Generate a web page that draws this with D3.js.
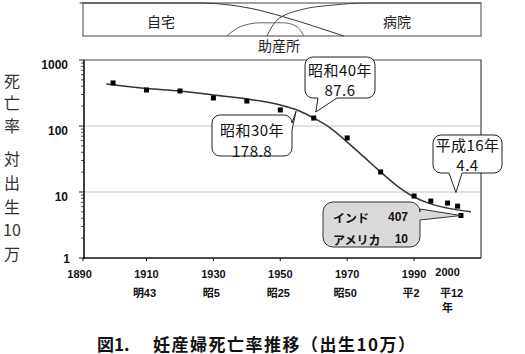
<!DOCTYPE html>
<html>
<head>
<meta charset="utf-8">
<title>妊産婦死亡率推移</title>
<script src="https://cdnjs.cloudflare.com/ajax/libs/d3/7.8.5/d3.min.js"></script>
<style>
  html, body { margin: 0; padding: 0; background: #fff; }
  svg { display: block; }
</style>
</head>
<body>
<div id="chart"></div>
<script>
// maternal deaths per 100k births
const years = [1900, 1910, 1920, 1930, 1940, 1950, 1960, 1970, 1980, 1990, 1995, 2000, 2003, 2004];
const rates = [449, 351, 339, 266, 239, 175, 132, 66, 20.1, 8.7, 7.3, 6.8, 6.1, 4.4];

// the smooth trend line
const trendYears = [1898, 1910, 1920, 1930, 1940, 1950, 1955, 1960, 1965, 1970, 1975, 1980, 1985, 1990, 1995, 2000, 2007];
const trendRates = [433, 370, 339, 295, 257, 208, 175, 132, 93, 57, 34, 20.1, 12.3, 8.4, 6.6, 5.7, 5.0];

// place of birth strip on top (share of births, 0..1)
const homeYears = [1890, 1926, 1941, 1951, 1960, 1969];
const homeShare = [1, 1, 0.84, 0.58, 0.30, 0];
const hospYears = [1946, 1949, 1956, 1966, 1976, 2010];
const hospShare = [0, 0.48, 0.79, 0.94, 1, 1];
const midYears = [1934, 1938, 1944, 1951, 1955, 1957];
const midShare = [0, 0.28, 0.40, 0.40, 0.28, 0];

const yTicks = [1, 10, 100, 1000];
const xTickYears = [1890, 1910, 1930, 1950, 1970, 1990, 2000];
const eraYears = [1910, 1930, 1950, 1970, 1990, 2000];
const eraLabels = ["明43", "昭5", "昭25", "昭50", "平2", "平12"];

const yLabelChars = ["死", "亡", "率", "対", "出", "生", "10", "万"];

const JP = '"Noto Sans CJK JP", sans-serif';
const LAT = '"Liberation Sans", "Noto Sans CJK JP", sans-serif';

const W = 525, H = 354;
const svg = d3.select("#chart").append("svg").attr("width", W).attr("height", H);

const x = d3.scaleLinear().domain([1890, 2010]).range([79.6, 481]);
const y = d3.scaleLog().domain([1, 1000]).range([258, 60]);
const plotL = 84, plotR = 481, plotT = 60, plotB = 258;

// ---- top strip ----
const sy = d3.scaleLinear().domain([0, 1]).range([36, 3]);
svg.append("rect").attr("x", 83).attr("y", 3).attr("width", plotR - 83).attr("height", 33)
  .attr("fill", "none").attr("stroke", "#444").attr("stroke-width", 1);

const stripLine = d3.line().x(d => x(d[0])).y(d => sy(d[1])).curve(d3.curveMonotoneX);
svg.append("path").attr("d", stripLine(d3.zip(homeYears, homeShare)))
  .attr("fill", "none").attr("stroke", "#333").attr("stroke-width", 1);
svg.append("path").attr("d", stripLine(d3.zip(hospYears, hospShare)))
  .attr("fill", "none").attr("stroke", "#444").attr("stroke-width", 1);
svg.append("path").attr("d", stripLine(d3.zip(midYears, midShare)))
  .attr("fill", "none").attr("stroke", "#666").attr("stroke-width", 1);

svg.append("text").attr("x", 161).attr("y", 21).text("自宅");
svg.append("text").attr("x", 397).attr("y", 21).text("病院");
svg.append("text").attr("x", 279).attr("y", 45).text("助産所");
svg.selectAll("text").attr("font-family", JP).attr("font-size", 14).attr("fill", "#222")
  .attr("text-anchor", "middle").attr("dominant-baseline", "central");

// ---- plot frame + grid ----
svg.append("g").selectAll("line").data([10, 100]).join("line")
  .attr("x1", plotL).attr("x2", plotR).attr("y1", d => y(d)).attr("y2", d => y(d))
  .attr("stroke", "#c4c4c4").attr("stroke-width", 1.2);
svg.append("path").attr("d", `M${plotL},${plotT}H${plotR}V${plotB}`)
  .attr("fill", "none").attr("stroke", "#444").attr("stroke-width", 1.2);

// y axis (log, with minor ticks)
const minor = [];
[1, 10, 100].forEach(b => { for (let k = 2; k <= 9; k++) minor.push(b * k); });
const yAxis = svg.append("g");
yAxis.selectAll("line.mi").data(minor).join("line").attr("class", "mi")
  .attr("x1", plotL - 3).attr("x2", plotL).attr("y1", d => y(d)).attr("y2", d => y(d))
  .attr("stroke", "#222").attr("stroke-width", 0.8);
yAxis.selectAll("line.ma").data(yTicks).join("line").attr("class", "ma")
  .attr("x1", plotL - 5).attr("x2", plotL).attr("y1", d => y(d)).attr("y2", d => y(d))
  .attr("stroke", "#222").attr("stroke-width", 1);
yAxis.append("line").attr("x1", plotL).attr("x2", plotL).attr("y1", plotT).attr("y2", plotB + 1)
  .attr("stroke", "#111").attr("stroke-width", 1.6);
yAxis.selectAll("text").data(yTicks).join("text")
  .attr("x", d => d === 1 ? 70 : 68)
  .attr("y", d => d === 1 ? y(d) + 1 : y(d) + 5)
  .attr("text-anchor", "end").attr("dominant-baseline", "central")
  .attr("font-family", LAT).attr("font-weight", "bold").attr("font-size", 12).attr("fill", "#111")
  .text(d => d);

// x axis
const xAxis = svg.append("g");
xAxis.append("line").attr("x1", plotL - 1).attr("x2", plotR).attr("y1", plotB).attr("y2", plotB)
  .attr("stroke", "#111").attr("stroke-width", 1.6);
xAxis.selectAll("line.t").data(xTickYears.slice(0, 6)).join("line").attr("class", "t")
  .attr("x1", d => Math.max(x(d), plotL - 1)).attr("x2", d => Math.max(x(d), plotL - 1))
  .attr("y1", plotB).attr("y2", plotB + 3).attr("stroke", "#111");
xAxis.selectAll("text.yr").data(xTickYears).join("text").attr("class", "yr")
  .attr("x", d => x(d)).attr("y", d => d === 2000 ? 272 : 273.5)
  .attr("text-anchor", "middle").attr("dominant-baseline", "central")
  .attr("font-family", LAT).attr("font-weight", "bold").attr("font-size", 11).attr("fill", "#111")
  .text(d => d);
xAxis.selectAll("text.era").data(d3.zip(eraYears, eraLabels)).join("text").attr("class", "era")
  .attr("x", d => x(d[0]) + (d[0] === 2000 ? 4 : d[0] === 1990 ? -3 : -2)).attr("y", 293)
  .attr("text-anchor", "middle").attr("dominant-baseline", "central")
  .attr("font-family", LAT).attr("font-weight", "bold").attr("font-size", 11).attr("fill", "#111")
  .text(d => d[1]);
xAxis.append("text").attr("x", x(2000)).attr("y", 308)
  .attr("text-anchor", "middle").attr("dominant-baseline", "central")
  .attr("font-family", LAT).attr("font-weight", "bold").attr("font-size", 11).attr("fill", "#111")
  .text("年");

// y label, one character per row
const yLabY = [80, 102, 125, 158, 182, 206, 229, 253];
svg.append("g").selectAll("text").data(yLabelChars).join("text")
  .attr("x", 12).attr("y", (d, i) => yLabY[i])
  .attr("text-anchor", "middle").attr("dominant-baseline", "central")
  .attr("font-family", JP).attr("font-size", 16).attr("fill", "#333")
  .text(d => d);

// ---- trend + markers ----
const trend = d3.line().x(d => x(d[0])).y(d => y(d[1])).curve(d3.curveMonotoneX);
svg.append("path").attr("d", trend(d3.zip(trendYears, trendRates)))
  .attr("fill", "none").attr("stroke", "#333").attr("stroke-width", 1.5);

svg.append("g").selectAll("rect").data(d3.zip(years, rates)).join("rect")
  .attr("x", d => x(d[0]) - 2.5).attr("y", d => y(d[1]) - 2.5)
  .attr("width", 5).attr("height", 5).attr("fill", "#000");

// ---- callouts ----
function calloutPath(b, t, r) {
  const [x0, y0, x1, y1] = b;
  let p = `M${x0 + r},${y0}H${x1 - r}A${r},${r} 0 0 1 ${x1},${y0 + r}`;
  if (t.side === "right") p += `V${t.a}L${t.tip[0]},${t.tip[1]}L${x1},${t.b}`;
  p += `V${y1 - r}A${r},${r} 0 0 1 ${x1 - r},${y1}`;
  if (t.side === "bottom") p += `H${t.b}L${t.tip[0]},${t.tip[1]}L${t.a},${y1}`;
  p += `H${x0 + r}A${r},${r} 0 0 1 ${x0},${y1 - r}V${y0 + r}A${r},${r} 0 0 1 ${x0 + r},${y0}Z`;
  return p;
}

const callouts = [
  { lines: ["昭和30年", "178.8"], at: [1955, 178.8], off: [-1, 2], box: [212, 115, 292, 156], side: "right", a: 123, b: 130, ty: [129, 150], fill: "#fff" },
  { lines: ["昭和40年", "87.6"], at: [1960, 132], off: [2, -6], box: [305, 57, 375, 98], side: "bottom", a: 318, b: 337, ty: [69, 89], fill: "#fff" },
  { lines: ["平成16年", "4.4"], at: [2004, 4.4], off: [-5, -23], box: [433, 135, 502, 173], side: "bottom", a: 449, b: 462, ty: [144, 164], fill: "#fff" }
];
callouts.forEach(c => {
  const tip = [x(c.at[0]) + c.off[0], y(c.at[1]) + c.off[1]];
  svg.append("path").attr("d", calloutPath(c.box, { side: c.side, a: c.a, b: c.b, tip }, 8))
    .attr("fill", c.fill).attr("stroke", "#222").attr("stroke-width", 1);
  const cx = (c.box[0] + c.box[2]) / 2;
  c.lines.forEach((s, i) => {
    svg.append("text").attr("x", cx).attr("y", c.ty[i])
      .attr("text-anchor", "middle").attr("dominant-baseline", "central")
      .attr("font-family", JP).attr("font-size", 15).attr("letter-spacing", 0.5)
      .attr("fill", "#111").text(s);
  });
});

// grey comparison box
const gTip = [x(2004), y(4.4)];
svg.append("path").attr("d", calloutPath([323, 202, 420, 247], { side: "right", a: 209, b: 220, tip: gTip }, 10))
  .attr("fill", "#d9d9d9").attr("stroke", "#333").attr("stroke-width", 1);
const countries = ["インド", "アメリカ"];
const countryRates = [407, 10];
countries.forEach((s, i) => {
  const ty = [217, 239][i];
  svg.append("text").attr("x", 333).attr("y", ty).attr("dominant-baseline", "central")
    .attr("font-family", JP).attr("font-weight", "bold").attr("font-size", 12).attr("fill", "#111").text(s);
  svg.append("text").attr("x", 408).attr("y", ty).attr("text-anchor", "end").attr("dominant-baseline", "central")
    .attr("font-family", LAT).attr("font-weight", "bold").attr("font-size", 12).attr("fill", "#111").text(countryRates[i]);
});

// ---- caption ----
svg.append("text").attr("x", 97).attr("y", 343).attr("dominant-baseline", "central")
  .attr("font-family", JP).attr("font-size", 17).attr("font-weight", "bold").attr("fill", "#111").text("図1.");
svg.append("text").attr("x", 153).attr("y", 343).attr("dominant-baseline", "central")
  .attr("font-family", JP).attr("font-size", 17).attr("font-weight", "bold").attr("letter-spacing", 1.5)
  .attr("fill", "#111").text("妊産婦死亡率推移（出生10万）");
</script>
</body>
</html>
